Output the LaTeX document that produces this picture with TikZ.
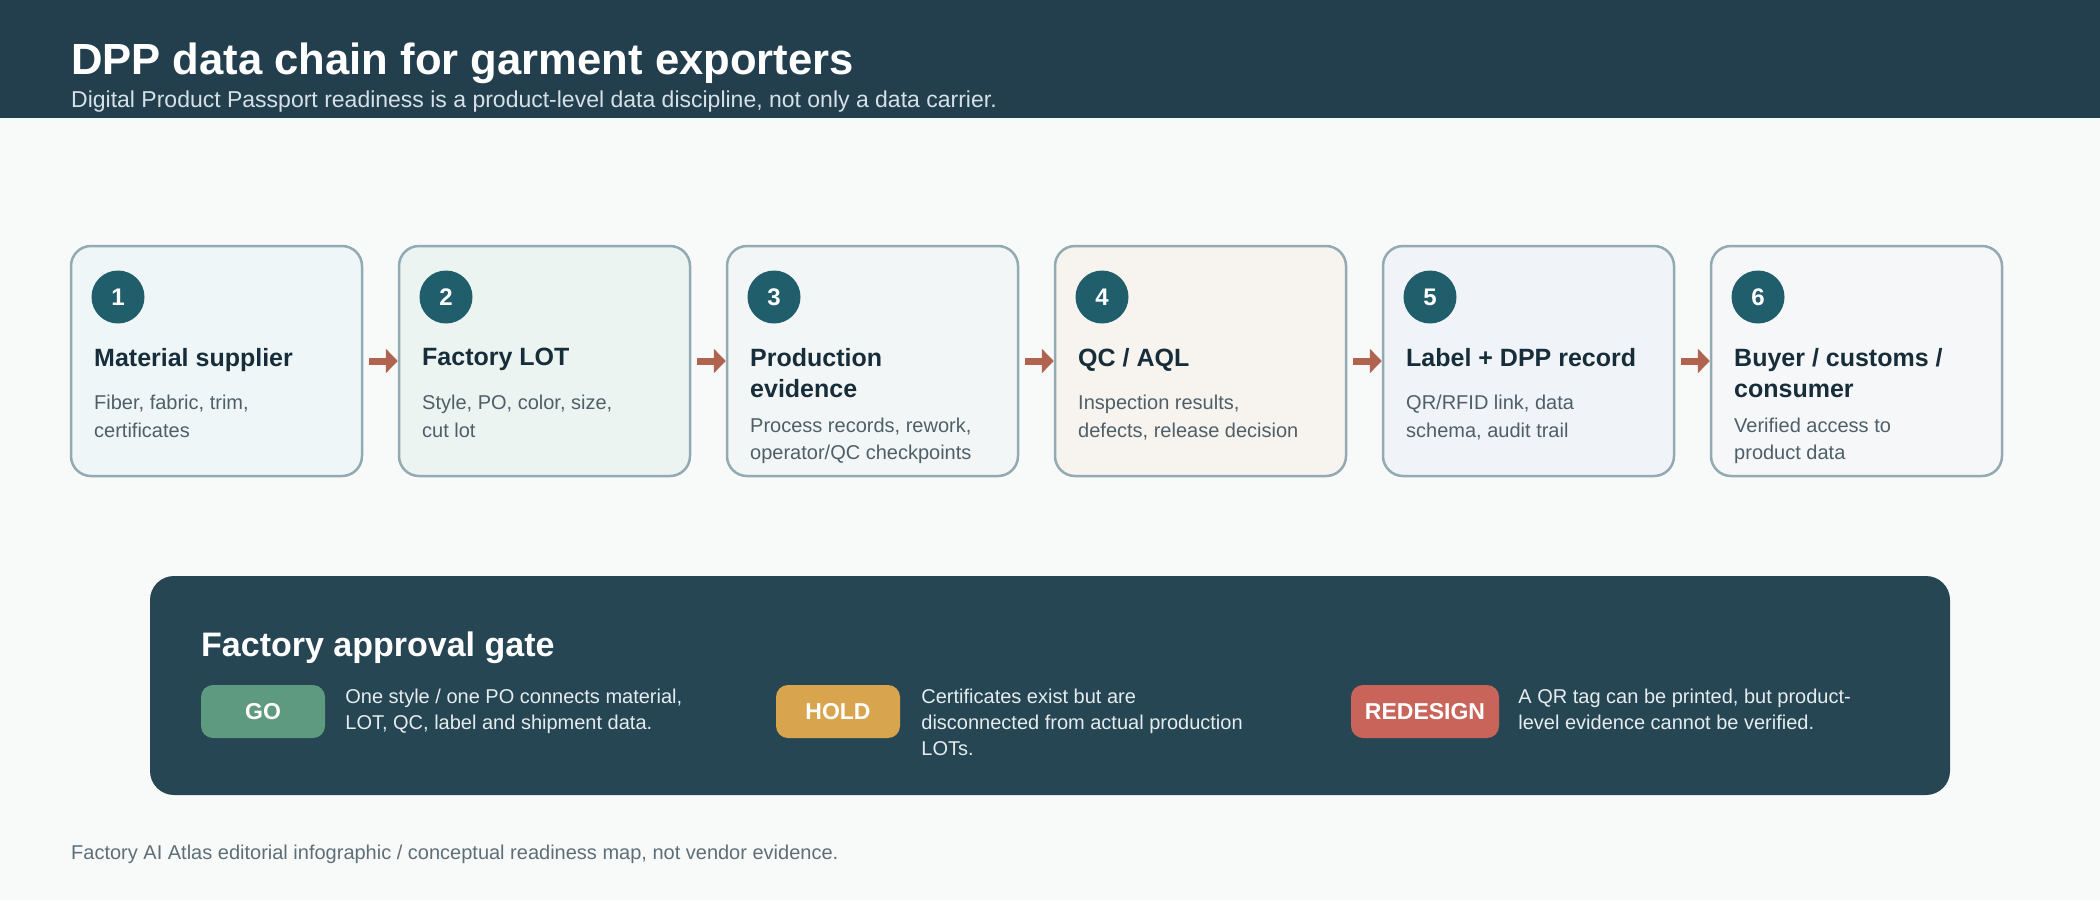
\documentclass[tikz,border=0pt]{standalone}
\usepackage{fontspec}
\setmainfont{Liberation Sans}
\usetikzlibrary{arrows.meta}

\definecolor{pagebg}{HTML}{F8FAFA}
\definecolor{bandfill}{HTML}{233F4E}
\definecolor{subgray}{HTML}{D5E1E6}
\definecolor{cardline}{HTML}{93AAB3}
\definecolor{ink}{HTML}{172E3A}
\definecolor{descgray}{HTML}{4F5F68}
\definecolor{numfill}{HTML}{215E6B}
\definecolor{flowred}{HTML}{B0644F}
\definecolor{gatefill}{HTML}{264653}
\definecolor{gatetext}{HTML}{E4ECEF}
\definecolor{gofill}{HTML}{5E9A80}
\definecolor{holdfill}{HTML}{D8A54E}
\definecolor{redofill}{HTML}{C9645A}
\definecolor{footgray}{HTML}{5E6E77}
\definecolor{fillA}{HTML}{EFF6F8}
\definecolor{fillB}{HTML}{ECF4F1}
\definecolor{fillC}{HTML}{F3F6F6}
\definecolor{fillD}{HTML}{F7F3EF}
\definecolor{fillE}{HTML}{F0F4F8}
\definecolor{fillF}{HTML}{F6F7F9}

\tikzset{
	card/.style={draw=cardline, line width=2.5pt, rounded corners=20pt, minimum width=291pt, minimum height=230pt, inner sep=0pt},
	num/.style={circle, fill=numfill, text=white, minimum size=53pt, inner sep=0pt, font=\fontsize{24}{24}\selectfont\bfseries},
	cardtitle/.style={anchor=north west, inner sep=0pt, align=left, text=ink, font=\fontsize{25}{31}\selectfont\bfseries},
	carddesc/.style={anchor=north west, inner sep=0pt, align=left, text=descgray, font=\fontsize{20}{27.5}\selectfont},
	flow/.style={draw=flowred, line width=7pt, -{Triangle[length=12pt, width=24pt]}},
	badge/.style={rounded corners=12pt, minimum height=53pt, inner sep=0pt, text=white, font=\fontsize{23}{23}\selectfont\bfseries},
	gatedesc/.style={anchor=north west, inner sep=0pt, align=left, text=gatetext, font=\fontsize{20}{26}\selectfont}
}

\begin{document}
\begin{tikzpicture}[x=1pt, y=-1pt]
	\useasboundingbox (0,0) rectangle (2100,900);
	\fill[pagebg] (0,0) rectangle (2100,900);
	\fill[bandfill] (0,0) rectangle (2100,118);
	\node[anchor=base west, inner sep=0pt, text=white, font=\fontsize{43.6}{52}\selectfont\bfseries] at (71,74) (heading) {DPP data chain for garment exporters};
	\node[anchor=base west, inner sep=0pt, text=subgray, font=\fontsize{23}{27}\selectfont] at (71,107) (subheading) {Digital Product Passport readiness is a product-level data discipline, not only a data carrier.};

	\node[card, fill=fillA] at (216.5,361) (supplier) {};
	\node[card, fill=fillB] at (544.5,361) (lot) {};
	\node[card, fill=fillC] at (872.5,361) (production) {};
	\node[card, fill=fillD] at (1200.5,361) (qc) {};
	\node[card, fill=fillE] at (1528.5,361) (label) {};
	\node[card, fill=fillF] at (1856.5,361) (buyer) {};

	\node[num] at (118,297) (n1) {1};
	\node[num] at (446,297) (n2) {2};
	\node[num] at (774,297) (n3) {3};
	\node[num] at (1102,297) (n4) {4};
	\node[num] at (1430,297) (n5) {5};
	\node[num] at (1758,297) (n6) {6};

	\node[cardtitle] at (94,348.1) (supplier title) {Material supplier};
	\node[cardtitle] at (422,348.1) (lot title) {Factory LOT};
	\node[cardtitle] at (750,348.1) (production title) {Production\\evidence};
	\node[cardtitle] at (1078,348.1) (qc title) {QC / AQL};
	\node[cardtitle] at (1406,348.1) (label title) {Label + DPP record};
	\node[cardtitle] at (1734,348.1) (buyer title) {Buyer / customs /\\consumer};

	\node[carddesc] at (94,395) (supplier text) {Fiber, fabric, trim,\\certificates};
	\node[carddesc] at (422,395) (lot text) {Style, PO, color, size,\\cut lot};
	\node[carddesc] at (750,417.5) (production text) {Process records, rework,\\operator/QC checkpoints};
	\node[carddesc] at (1078,395) (qc text) {Inspection results,\\defects, release decision};
	\node[carddesc] at (1406,395) (label text) {QR/RFID link, data\\schema, audit trail};
	\node[carddesc] at (1734,417.5) (buyer text) {Verified access to\\product data};

	\draw[flow] ([xshift=6pt]supplier.east) -- (lot.west);
	\draw[flow] ([xshift=6pt]lot.east) -- (production.west);
	\draw[flow] ([xshift=6pt]production.east) -- (qc.west);
	\draw[flow] ([xshift=6pt]qc.east) -- (label.west);
	\draw[flow] ([xshift=6pt]label.east) -- (buyer.west);

	\node[fill=gatefill, rounded corners=24pt, minimum width=1800pt, minimum height=219pt, inner sep=0pt] at (1050,685.5) (gate) {};
	\node[anchor=base west, inner sep=0pt, text=white, font=\fontsize{34}{40}\selectfont\bfseries] at (201,656) (gate title) {Factory approval gate};

	\node[badge, fill=gofill, minimum width=124pt] at (263,711.5) (go) {GO};
	\node[badge, fill=holdfill, minimum width=124pt] at (838,711.5) (hold) {HOLD};
	\node[badge, fill=redofill, minimum width=148pt] at (1425,711.5) (redesign) {REDESIGN};

	\node[gatedesc] at ([xshift=20pt, yshift=-3.7pt]go.north east) (go text) {One style / one PO connects material,\\LOT, QC, label and shipment data.};
	\node[gatedesc] at ([xshift=21pt, yshift=-3.7pt]hold.north east) (hold text) {Certificates exist but are\\disconnected from actual production\\LOTs.};
	\node[gatedesc] at ([xshift=19pt, yshift=-3.7pt]redesign.north east) (redesign text) {A QR tag can be printed, but product-\\level evidence cannot be verified.};

	\node[anchor=base west, inner sep=0pt, text=footgray, font=\fontsize{20}{24}\selectfont] at (71,859) (footer) {Factory AI Atlas editorial infographic / conceptual readiness map, not vendor evidence.};
\end{tikzpicture}
\end{document}
